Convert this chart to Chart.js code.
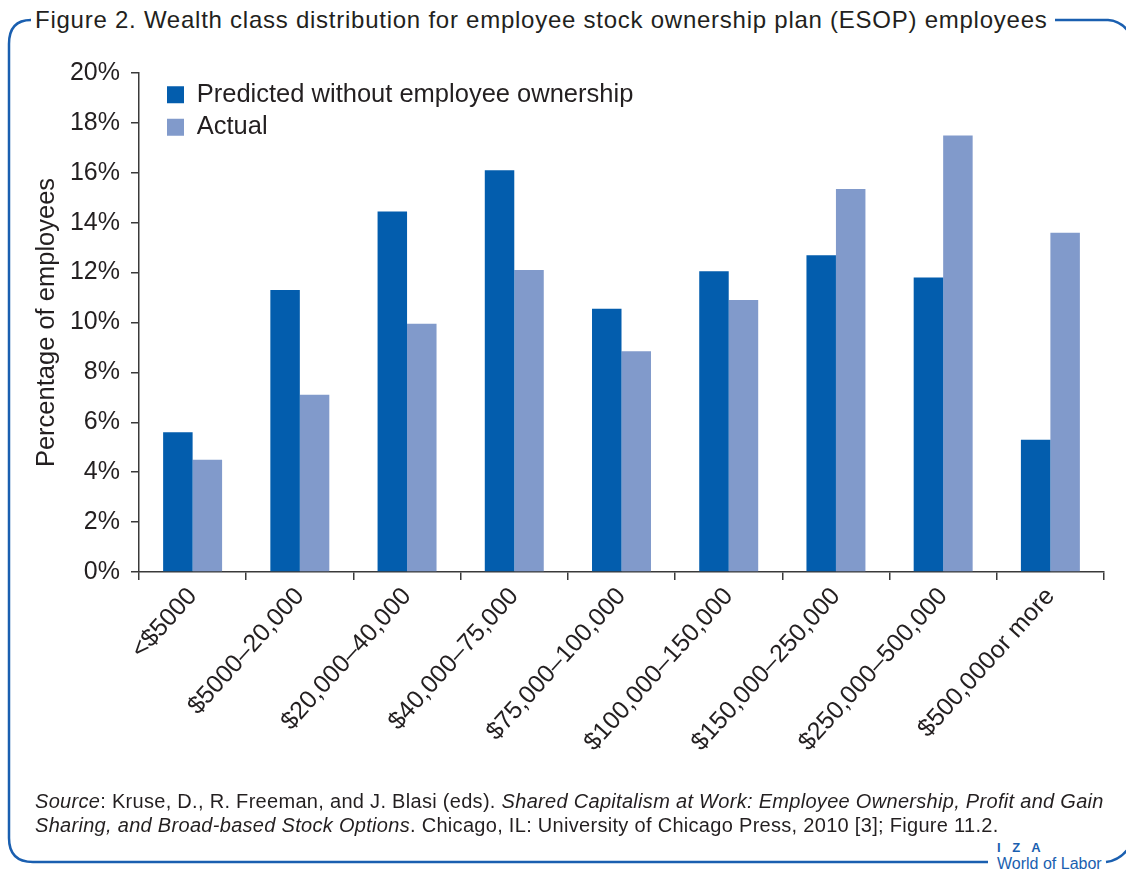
<!DOCTYPE html>
<html lang="en">
<head>
  <meta charset="UTF-8">
  <title>Figure 2. Wealth class distribution for ESOP employees</title>
  <style>
    body { margin: 0; background: #fff; font-family: 'Liberation Sans', Arial, sans-serif; color: #231f20; }
    #wrap { position: relative; width: 1126px; height: 876px; overflow: hidden; }
    #frame { position: absolute; left: 0; top: 0; }
    #titulo { position: absolute; left: 35px; top: 6px; font-size: 24px; letter-spacing: 0.75px; white-space: nowrap; }
    #box { position: absolute; left: 0; top: 40px; width: 1126px; height: 750px; }
    #fonte { position: absolute; left: 35px; top: 789px; font-size: 20px; letter-spacing: 0.3px; line-height: 24px; white-space: nowrap; }
    #iza { position: absolute; left: 997px; top: 840px; color: #1a5fb0; }
    #iza .a { font-size: 13px; font-weight: bold; letter-spacing: 4px; line-height: 15px; }
    #iza .b { font-size: 16px; line-height: 18px; }
  </style>
</head>
<body>
  <div id="wrap">
    <svg id="frame" width="1126" height="876">
      <path d="M 31 20 Q 9 20 9 44 L 9 838 Q 9 862 33 862 L 988 862" fill="none" stroke="#1a5fb0" stroke-width="2.5"/>
      <path d="M 1055 20 L 1108 20 Q 1122 21 1130 34" fill="none" stroke="#1a5fb0" stroke-width="2.5"/>
      <path d="M 1106 862 Q 1121 860 1130 846" fill="none" stroke="#1a5fb0" stroke-width="2.5"/>
    </svg>
    <div id="titulo">Figure 2. Wealth class distribution for employee stock ownership plan (ESOP) employees</div>
    <div id="box"><canvas id="grafico"></canvas></div>
    <div id="fonte">
      <i>Source</i>: Kruse, D., R. Freeman, and J. Blasi (eds). <i>Shared Capitalism at Work: Employee Ownership, Profit and Gain</i><br>
      <i>Sharing, and Broad-based Stock Options</i>. Chicago, IL: University of Chicago Press, 2010 [3]; Figure 11.2.
    </div>
    <div id="iza"><div class="a">I Z A</div><div class="b">World of Labor</div></div>
  </div>
  <script src="https://cdn.jsdelivr.net/npm/chart.js"></script>
  <script>
    const faixas = ['<$5000', '$5000–20,000', '$20,000–40,000', '$40,000–75,000', '$75,000–100,000',
                    '$100,000–150,000', '$150,000–250,000', '$250,000–500,000', '$500,000or more'];
    const previsto = [5.6, 11.3, 14.45, 16.1, 10.55, 12.05, 12.7, 11.8, 5.3];
    const real = [4.5, 7.1, 9.95, 12.1, 8.85, 10.9, 15.35, 17.5, 13.6];
    const ticksY = [0, 2, 4, 6, 8, 10, 12, 14, 16, 18, 20];

    const fonte = 'Liberation Sans';
    const corTexto = '#231f20';
    const corEixo = '#3a3a3a';

    // empurra a legenda para dentro da area do grafico, como no original
    const moverLegenda = {
      id: 'moverLegenda',
      afterLayout(chart) { chart.legend.left += 21; chart.legend.top += 35; }
    };

    new Chart(document.getElementById('grafico'), {
      type: 'bar',
      data: {
        labels: faixas,
        datasets: [
          { label: 'Predicted without employee ownership', data: previsto, backgroundColor: '#035dad', borderWidth: 0 },
          { label: 'Actual', data: real, backgroundColor: '#819acb', borderWidth: 0 }
        ]
      },
      options: {
        responsive: true,
        maintainAspectRatio: false,
        animation: false,
        layout: { padding: { left: 20, right: 22, top: 33, bottom: 0 } },
        datasets: { bar: { categoryPercentage: 0.55, barPercentage: 1 } },
        plugins: {
          tooltip: { enabled: false },
          legend: {
            position: 'chartArea',
            align: 'start',
            labels: { boxWidth: 17, boxHeight: 17, padding: 7, color: corTexto, font: { family: fonte, size: 25.5 } }
          }
        },
        scales: {
          x: {
            grid: { drawOnChartArea: false, tickLength: 8, color: corEixo, lineWidth: 1.5 },
            border: { color: corEixo, width: 1.5 },
            ticks: { color: corTexto, font: { family: fonte, size: 25 }, minRotation: 48, maxRotation: 48, padding: 2 },
            afterFit(s) { s.height = 218; }
          },
          y: {
            min: 0,
            max: 20,
            afterBuildTicks(s) { s.ticks = ticksY.map(v => ({ value: v })); },
            grid: { drawOnChartArea: false, tickLength: 8, color: corEixo, lineWidth: 1.5 },
            border: { color: corEixo, width: 1.5 },
            ticks: { color: corTexto, font: { family: fonte, size: 25 }, padding: 11, callback: v => v + '%' },
            title: { display: true, text: 'Percentage of employees', color: corTexto, font: { family: fonte, size: 25.5 }, padding: { top: 12, bottom: 0 } },
            afterFit(s) { s.width = 119; }
          }
        }
      },
      plugins: [moverLegenda]
    });
  </script>
</body>
</html>
